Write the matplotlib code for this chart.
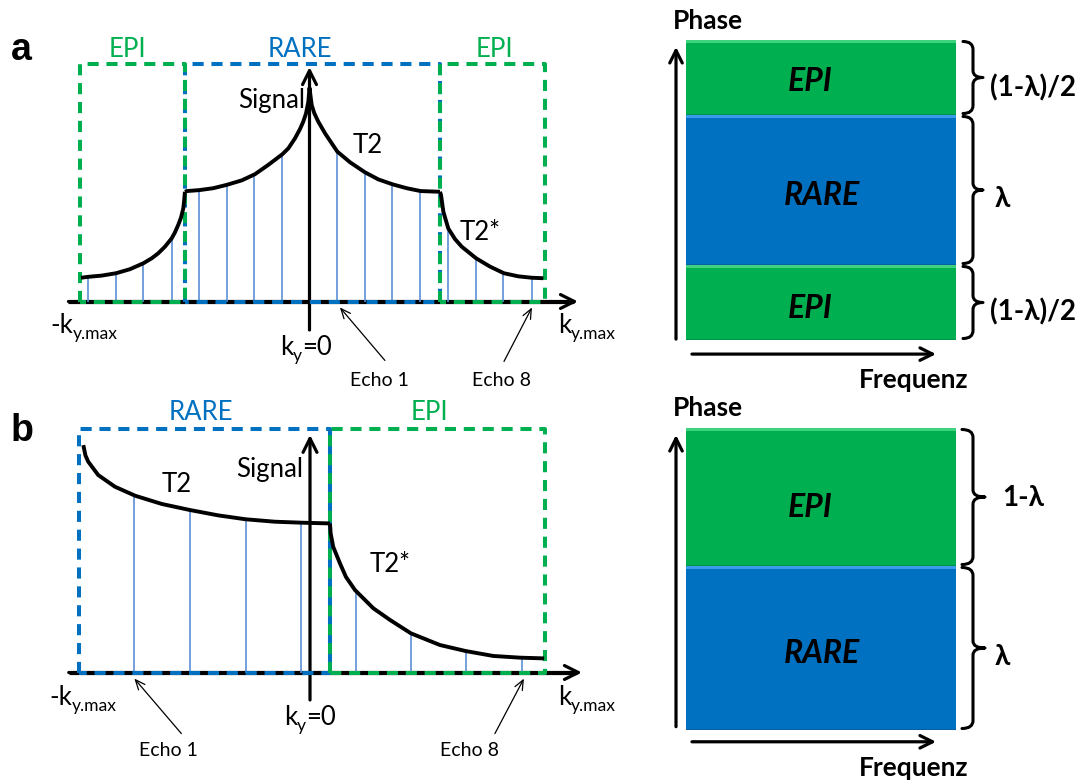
import matplotlib
matplotlib.use('Agg')
import matplotlib.pyplot as plt
import matplotlib.transforms as mtransforms
from matplotlib.path import Path
from matplotlib.patches import PathPatch

plt.rcParams['font.family'] = ['Lato', 'DejaVu Sans']
plt.rcParams['lines.scale_dashes'] = False

W, H = 1089, 783
GREEN = '#00B050'
BLUE = '#0070C0'
ECHO = '#5B8FD6'

# ---------------- data: panel a (centric RARE + EPI at both ends) ----------------
a_boxes_k = [(-0.989, -0.537), (-0.537, 0.562), (0.562, 1.015)]
a_boxes_name = ['EPI', 'RARE', 'EPI']

a_epi_l_k = [-0.985, -0.953, -0.896, -0.834, -0.774, -0.716, -0.680, -0.652, -0.623, -0.594,
             -0.580, -0.566, -0.554, -0.544, -0.540, -0.537]
a_epi_l_s = [0.100, 0.104, 0.109, 0.119, 0.136, 0.161, 0.182, 0.203, 0.231, 0.266,
             0.291, 0.322, 0.353, 0.392, 0.427, 0.462]

a_rare_k = [-0.537, -0.529, -0.475, -0.415, -0.357, -0.292, -0.235, -0.178, -0.117, -0.091,
            -0.0625, -0.041, -0.027, -0.015, -0.005, 0.0,
            0.0095, 0.021, 0.038, 0.067, 0.120, 0.175, 0.239, 0.297, 0.359, 0.419, 0.479, 0.5625]
a_rare_s = [0.462, 0.465, 0.469, 0.477, 0.491, 0.510, 0.536, 0.575, 0.620, 0.645,
            0.687, 0.726, 0.757, 0.792, 0.841, 0.899,
            0.827, 0.792, 0.757, 0.708, 0.631, 0.586, 0.544, 0.514, 0.493, 0.477, 0.465, 0.462]

a_epi_r_k = [0.5625, 0.567, 0.572, 0.577, 0.598, 0.627, 0.656, 0.718, 0.778, 0.838, 0.900, 0.958, 1.008]
a_epi_r_s = [0.462, 0.448, 0.413, 0.378, 0.308, 0.263, 0.231, 0.182, 0.147, 0.119, 0.106, 0.100, 0.098]

a_echo_k = [-0.955, -0.834, -0.718, -0.593, -0.476, -0.356, -0.239, -0.118,
            0.119, 0.239, 0.356, 0.476, 0.597, 0.718, 0.834, 0.959]
a_echo_s = [0.104, 0.119, 0.161, 0.266, 0.469, 0.491, 0.536, 0.620,
            0.631, 0.544, 0.493, 0.465, 0.308, 0.182, 0.119, 0.100]

# ---------------- data: panel b (RARE first half, EPI second half) ----------------
b_boxes_k = [(-0.997, 0.086), (0.086, 1.011)]
b_boxes_name = ['RARE', 'EPI']

b_rare_k = [-0.977, -0.968, -0.956, -0.913, -0.841, -0.754, -0.639, -0.517, -0.395, -0.277,
            -0.151, -0.036, 0.086]
b_rare_s = [0.935, 0.893, 0.867, 0.812, 0.764, 0.727, 0.693, 0.668, 0.646, 0.630,
            0.620, 0.616, 0.613]

b_epi_k = [0.086, 0.089, 0.100, 0.129, 0.155, 0.194, 0.273, 0.345, 0.435, 0.560, 0.672, 0.790, 0.905, 1.009]
b_epi_s = [0.613, 0.572, 0.517, 0.449, 0.393, 0.339, 0.264, 0.216, 0.161, 0.113, 0.088, 0.068, 0.061, 0.058]

b_echo_k = [-0.757, -0.517, -0.277, -0.040, 0.197, 0.435, 0.672, 0.912]
b_echo_s = [0.730, 0.668, 0.630, 0.616, 0.339, 0.161, 0.088, 0.062]

# ---------------- data: k-space partition (right) ----------------
ra_bounds = [0.0, 0.25, 0.75, 1.0]
ra_names = ['EPI', 'RARE', 'EPI']
ra_brace_labels = ['(1-λ)/2', 'λ', '(1-λ)/2']

rb_bounds = [0.0, 0.543, 1.0]
rb_names = ['RARE', 'EPI']
rb_brace_labels = ['λ', '1-λ']

COL = {'EPI': GREEN, 'RARE': BLUE}
LIGHT = {'EPI': '#3DD27E', 'RARE': '#3A9BEA'}
DARK = {'EPI': '#00944A', 'RARE': '#0B5EA3'}

fig = plt.figure(figsize=(W / 100, H / 100), dpi=100)
renderer = fig.canvas.get_renderer()


def add_ax(x0, y0, x1, y1):
    ax = fig.add_axes([x0 / W, 1 - y1 / H, (x1 - x0) / W, (y1 - y0) / H])
    ax.set_axis_off()
    return ax


def ftext(x, y, s, **kw):
    kw.setdefault('ha', 'center')
    kw.setdefault('va', 'baseline')
    return fig.text(x / W, 1 - y / H, s, **kw)


def sub_text(xc, y, parts, fs):
    """parts: list of (string, is_subscript); centred at xc, baseline y (pixels from top)."""
    arts = []
    for s, is_sub in parts:
        t = ftext(0, 0, s, fontsize=fs * (0.68 if is_sub else 1.0), ha='left')
        arts.append((t, is_sub))
    widths = [t.get_window_extent(renderer).width for t, _ in arts]
    x = xc - sum(widths) / 2
    for (t, is_sub), w in zip(arts, widths):
        yy = y + (0.22 * fs * 100 / 72 if is_sub else 0)
        t.set_position((x / W, 1 - yy / H))
        x += w


def axis_arrow(ax, start, end, lw=2.3, hl=1.0, hw=0.5):
    ax.annotate('', xy=end, xytext=start, xycoords='data', textcoords='data',
                arrowprops=dict(arrowstyle=f'->,head_length={hl},head_width={hw}',
                                lw=lw, color='black', shrinkA=0, shrinkB=0),
                annotation_clip=False, zorder=1)


def echo_arrow(ax, k, dx, dy):
    ax.annotate('', xy=(k, -0.025), xycoords='data',
                xytext=(dx, dy), textcoords='offset pixels',
                arrowprops=dict(arrowstyle='->,head_length=0.7,head_width=0.3',
                                lw=0.9, color='black', shrinkA=0, shrinkB=0),
                annotation_clip=False, zorder=5)


DASH = (0, (8.0, 5.6))


def draw_boxes(ax, boxes, names):
    order = sorted(range(len(boxes)), key=lambda i: 0 if names[i] == 'RARE' else 1)
    for i in order:
        k0, k1 = boxes[i]
        ax.plot([k0, k0, k1, k1, k0], [0, 1, 1, 0, 0], ls=DASH, lw=2.9,
                color=COL[names[i]], dash_capstyle='butt', zorder=2 + 0.1 * (names[i] == 'EPI'),
                clip_on=False)


CURVE = dict(color='black', lw=2.8, zorder=4, solid_joinstyle='round', solid_capstyle='butt')

# ================= panel a (left) =================
ax_a = add_ax(0, 0, 640, 390)
ax_a.set_xlim(-309.5 / 232, (640 - 309.5) / 232)
ax_a.set_ylim((301.5 - 390) / 237.5, 301.5 / 237.5)

ax_a.plot([-1.039, 1.14], [0, 0], color='black', lw=2.3, zorder=1, solid_capstyle='butt')
axis_arrow(ax_a, (-1.039, 0), (1.157, 0))
axis_arrow(ax_a, (0, -0.12), (0, 0.987))
ax_a.vlines(a_echo_k, 0, a_echo_s, color=ECHO, lw=1.2, zorder=1.5)
draw_boxes(ax_a, a_boxes_k, a_boxes_name)
for kk, ss in [(a_epi_l_k, a_epi_l_s), (a_rare_k, a_rare_s), (a_epi_r_k, a_epi_r_s)]:
    ax_a.plot(kk, ss, **CURVE)
echo_arrow(ax_a, a_echo_k[8] + 0.012, 45, -53)
echo_arrow(ax_a, a_echo_k[15], -28, -54)

# ================= panel b (left) =================
ax_b = add_ax(0, 390, 640, 783)
ax_b.set_xlim(-310 / 232, 330 / 232)
ax_b.set_ylim((672.5 - 783) / 243.2, (672.5 - 390) / 243.2)

ax_b.plot([-1.04, 1.15], [0, 0], color='black', lw=2.3, zorder=1, solid_capstyle='butt')
axis_arrow(ax_b, (-1.04, 0), (1.172, 0))
axis_arrow(ax_b, (0, -0.113), (0, 0.977))
ax_b.vlines(b_echo_k, 0, b_echo_s, color=ECHO, lw=1.2, zorder=1.5)
draw_boxes(ax_b, b_boxes_k, b_boxes_name)
for kk, ss in [(b_rare_k, b_rare_s), (b_epi_k, b_epi_s)]:
    ax_b.plot(kk, ss, **CURVE)
echo_arrow(ax_b, b_echo_k[0], 47, -55)
echo_arrow(ax_b, b_echo_k[7] + 0.01, -29, -55)

# ---------------- texts of the left panels ----------------
FS = 18.5
ftext(21, 60, 'a', fontsize=27, fontweight='bold', family=['Liberation Sans', 'DejaVu Sans'])
ftext(22, 441, 'b', fontsize=27, fontweight='bold', family=['Liberation Sans', 'DejaVu Sans'])

for (x, name) in zip([127, 300, 494], a_boxes_name):
    ftext(x, 56.7, name, fontsize=FS, color=COL[name])
for (x, name) in zip([201, 429], b_boxes_name):
    ftext(x, 419.5, name, fontsize=FS, color=COL[name])

ftext(305, 107.7, 'Signal', fontsize=FS, ha='right')
ftext(368, 153.3, 'T2', fontsize=FS)
ftext(480.5, 240, 'T2*', fontsize=FS)
ftext(303.5, 476.7, 'Signal', fontsize=FS, ha='right')
ftext(176.7, 491.7, 'T2', fontsize=FS)
ftext(390, 571.7, 'T2*', fontsize=FS)

KY0 = [('k', False), ('y', True), ('=0', False)]
KMN = [('-k', False), ('y.max', True)]
KMX = [('k', False), ('y.max', True)]
sub_text(306, 355, KY0, FS)
sub_text(84, 333, KMN, FS)
sub_text(587, 333, KMX, FS)
sub_text(310, 725, KY0, FS)
sub_text(83, 705, KMN, FS)
sub_text(587, 705, KMX, FS)

ftext(379, 386, 'Echo 1', fontsize=14)
ftext(502, 386, 'Echo 8', fontsize=14)
ftext(168, 756, 'Echo 1', fontsize=14)
ftext(470, 756, 'Echo 8', fontsize=14)


# ================= right panels =================
def brace(ax, y0, y1, xe=963, xs=973, xt=983, r=8.0, rt=7.0, gap=1.5):
    _, pb = ax.transData.transform((1, y0))
    _, pt = ax.transData.transform((1, y1))
    pb += gap
    pt -= gap
    pm = 0.5 * (pb + pt)
    verts = [(xe, pt), (xs, pt), (xs, pt - r),
             (xs, pm + rt), (xs, pm), (xt, pm),
             (xs, pm), (xs, pm - rt),
             (xs, pb + r), (xs, pb), (xe, pb)]
    codes = [Path.MOVETO, Path.CURVE3, Path.CURVE3,
             Path.LINETO, Path.CURVE3, Path.CURVE3,
             Path.CURVE3, Path.CURVE3,
             Path.LINETO, Path.CURVE3, Path.CURVE3]
    p = PathPatch(Path(verts, codes), transform=mtransforms.IdentityTransform(),
                  fill=False, lw=2.2, edgecolor='black', capstyle='round', joinstyle='round')
    fig.add_artist(p)


def partition(ax, bounds, names, px_per_unit):
    for i, name in enumerate(names):
        b0, b1 = bounds[i], bounds[i + 1]
        ax.bar(0.5, b1 - b0, bottom=b0, width=1.0, color=COL[name], edgecolor='none', zorder=2)
        t = 2.5 / px_per_unit
        ax.bar(0.5, t, bottom=b1 - t, width=1.0, color=LIGHT[name], edgecolor='none', zorder=3)
        ax.bar(0.5, 1.5 / px_per_unit, bottom=b0, width=1.0, color=DARK[name], edgecolor='none', zorder=3)
    ax.bar(0.5 + 0.004, 1.0, bottom=-0.006, width=1.0, color='#c8c8c8', edgecolor='none', zorder=1)
    ax.set_xlim(0, 1)
    ax.set_ylim(0, 1)


ax_ra = add_ax(686, 40, 956, 340)
partition(ax_ra, ra_bounds, ra_names, 300)
axis_arrow(ax_ra, (-0.037, 0.003), (-0.037, 0.977), lw=2.3, hl=0.9, hw=0.45)
axis_arrow(ax_ra, (0.022, -0.047), (0.926, -0.047), lw=2.3, hl=0.9, hw=0.45)

ax_rb = add_ax(686, 428, 956, 730)
partition(ax_rb, rb_bounds, rb_names, 302)
axis_arrow(ax_rb, (-0.037, 0.011), (-0.037, 0.977), lw=2.3, hl=0.9, hw=0.45)
axis_arrow(ax_rb, (0.022, -0.039), (0.926, -0.039), lw=2.3, hl=0.9, hw=0.45)

for i in range(len(ra_names)):
    brace(ax_ra, ra_bounds[i], ra_bounds[i + 1])
for i in range(len(rb_names)):
    brace(ax_rb, rb_bounds[i], rb_bounds[i + 1], xe=962, xs=973, xt=985)

BI = dict(fontsize=23, fontweight='bold', fontstyle='italic', color='black')
ftext(810, 90.7, 'EPI', **BI)
ftext(821.7, 205, 'RARE', **BI)
ftext(810, 318.3, 'EPI', **BI)
ftext(810, 517.3, 'EPI', **BI)
ftext(821.7, 663.3, 'RARE', **BI)

BL = dict(fontsize=20, fontweight='bold')
ftext(990, 96.7, ra_brace_labels[2], ha='left', **BL)
ftext(995, 207.3, ra_brace_labels[1], ha='left', **BL)
ftext(990, 320.5, ra_brace_labels[0], ha='left', **BL)
ftext(1001.7, 506, rb_brace_labels[1], ha='left', **BL)
ftext(995, 665, rb_brace_labels[0], ha='left', **BL)

PH = dict(fontsize=19, fontweight='bold')
ftext(708, 29.3, 'Phase', **PH)
ftext(914, 388.3, 'Frequenz', **PH)
ftext(708, 416, 'Phase', **PH)
ftext(914, 776, 'Frequenz', **PH)

fig.savefig('out.png', dpi=100)
